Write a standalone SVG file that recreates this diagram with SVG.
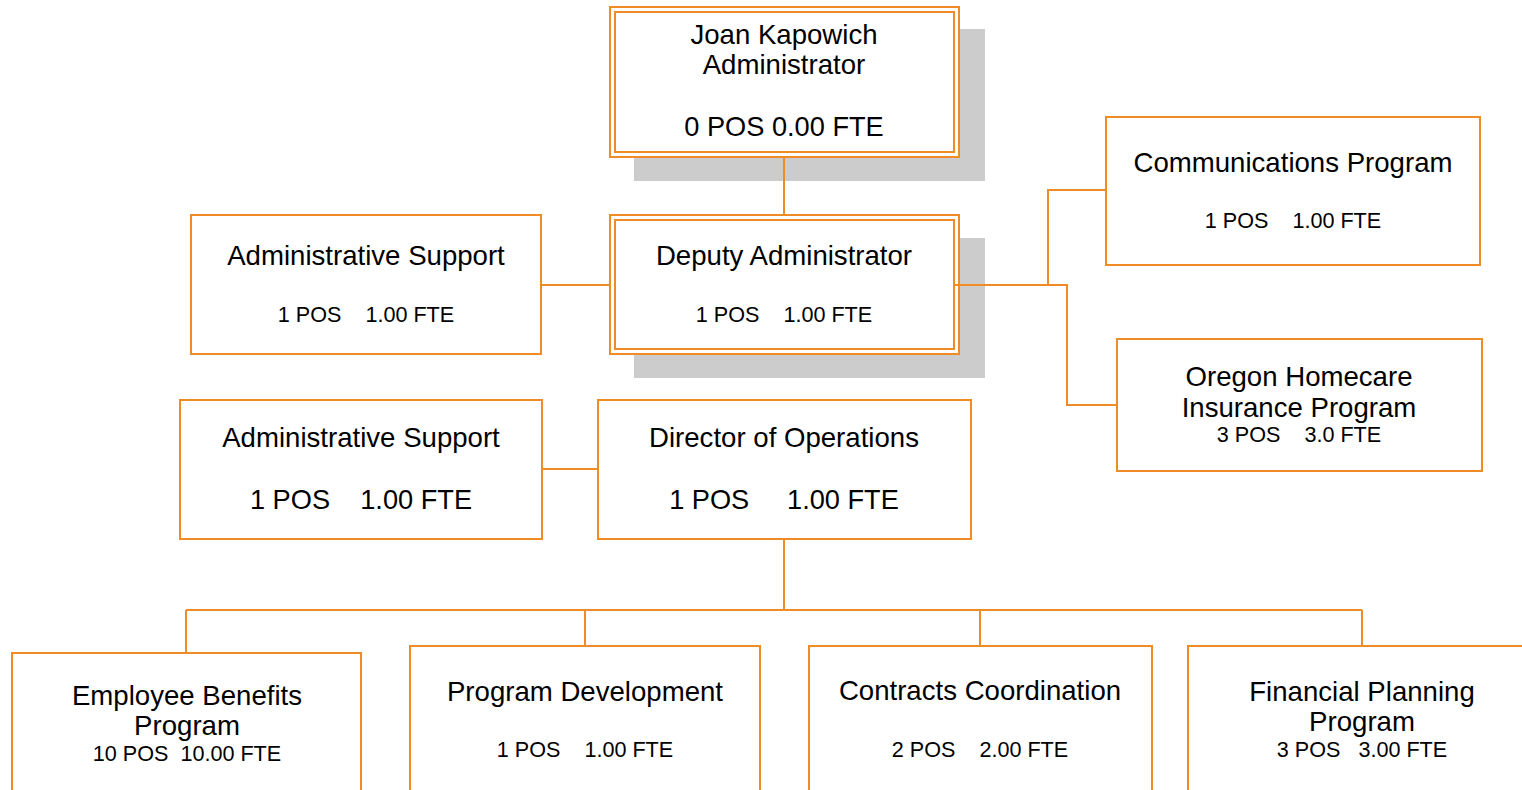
<svg xmlns="http://www.w3.org/2000/svg" width="1522" height="790" viewBox="0 0 1522 790" xml:space="preserve">
<style>
  .box { fill: #ffffff; stroke: #EF8C26; stroke-width: 2; }
  .shadow { fill: #CCCCCC; stroke: none; }
  .conn { fill: none; stroke: #EF8C26; stroke-width: 2; }
  text { font-family: "Liberation Sans", Arial, sans-serif; fill: #000000; text-anchor: middle; white-space: pre; }
  .t { font-size: 27.6px; }
  .s { font-size: 21.6px; }
  .b { font-size: 27.2px; }
</style>
<rect width="1522" height="790" fill="#ffffff"/>
<g id="joan">
  <rect class="shadow" x="634" y="29" width="351" height="152"/>
  <rect class="box" x="610" y="7" width="349" height="150"/>
  <rect class="box" x="615" y="12" width="339" height="140"/>
  <text class="t" x="784" y="44">Joan Kapowich</text>
  <text class="t" x="784" y="74">Administrator</text>
  <text class="b" x="784" y="136">0 POS 0.00 FTE</text>
</g>
<g id="deputy">
  <rect class="shadow" x="634" y="238" width="351" height="140"/>
  <rect class="box" x="610" y="215" width="349" height="139"/>
  <rect class="box" x="615" y="220" width="339" height="129"/>
  <text class="t" x="784" y="265">Deputy Administrator</text>
  <text class="s" x="784" y="322">1 POS    1.00 FTE</text>
</g>
<g id="admin-support-1">
  <rect class="box" x="191" y="215" width="350" height="139"/>
  <text class="t" x="366" y="265">Administrative Support</text>
  <text class="s" x="366" y="322">1 POS    1.00 FTE</text>
</g>
<g id="communications">
  <rect class="box" x="1106" y="117" width="374" height="148"/>
  <text class="t" x="1293" y="172">Communications Program</text>
  <text class="s" x="1293" y="228">1 POS    1.00 FTE</text>
</g>
<g id="oregon-homecare">
  <rect class="box" x="1117" y="339" width="365" height="132"/>
  <text class="t" x="1299" y="386">Oregon Homecare</text>
  <text class="t" x="1299" y="417">Insurance Program</text>
  <text class="s" x="1299" y="442">3 POS    3.0 FTE</text>
</g>
<g id="admin-support-2">
  <rect class="box" x="180" y="400" width="362" height="139"/>
  <text class="t" x="361" y="447">Administrative Support</text>
  <text class="b" x="361" y="509">1 POS    1.00 FTE</text>
</g>
<g id="director-operations">
  <rect class="box" x="598" y="400" width="373" height="139"/>
  <text class="t" x="784" y="447">Director of Operations</text>
  <text class="b" x="784" y="509">1 POS     1.00 FTE</text>
</g>
<g id="employee-benefits">
  <rect class="box" x="12" y="653" width="349" height="160"/>
  <text class="t" x="187" y="705">Employee Benefits</text>
  <text class="t" x="187" y="735">Program</text>
  <text class="s" x="187" y="761">10 POS  10.00 FTE</text>
</g>
<g id="program-development">
  <rect class="box" x="410" y="646" width="350" height="160"/>
  <text class="t" x="585" y="701">Program Development</text>
  <text class="s" x="585" y="757">1 POS    1.00 FTE</text>
</g>
<g id="contracts-coordination">
  <rect class="box" x="809" y="646" width="343" height="160"/>
  <text class="t" x="980" y="700">Contracts Coordination</text>
  <text class="s" x="980" y="757">2 POS    2.00 FTE</text>
</g>
<g id="financial-planning">
  <rect class="box" x="1188" y="646" width="360" height="160"/>
  <text class="t" x="1362" y="701">Financial Planning</text>
  <text class="t" x="1362" y="731">Program</text>
  <text class="s" x="1362" y="757">3 POS   3.00 FTE</text>
</g>
<g id="connectors">
  <line class="conn" x1="784" y1="157" x2="784" y2="215"/>
  <line class="conn" x1="541" y1="285" x2="610" y2="285"/>
  <polyline class="conn" points="954,285 1067,285 1067,405 1117,405"/>
  <polyline class="conn" points="1048,285 1048,190 1106,190"/>
  <line class="conn" x1="542" y1="469" x2="598" y2="469"/>
  <line class="conn" x1="784" y1="539" x2="784" y2="610"/>
  <line class="conn" x1="186" y1="610" x2="1362" y2="610"/>
  <line class="conn" x1="186" y1="610" x2="186" y2="653"/>
  <line class="conn" x1="585" y1="610" x2="585" y2="646"/>
  <line class="conn" x1="980" y1="610" x2="980" y2="646"/>
  <line class="conn" x1="1362" y1="610" x2="1362" y2="646"/>
</g>
</svg>
